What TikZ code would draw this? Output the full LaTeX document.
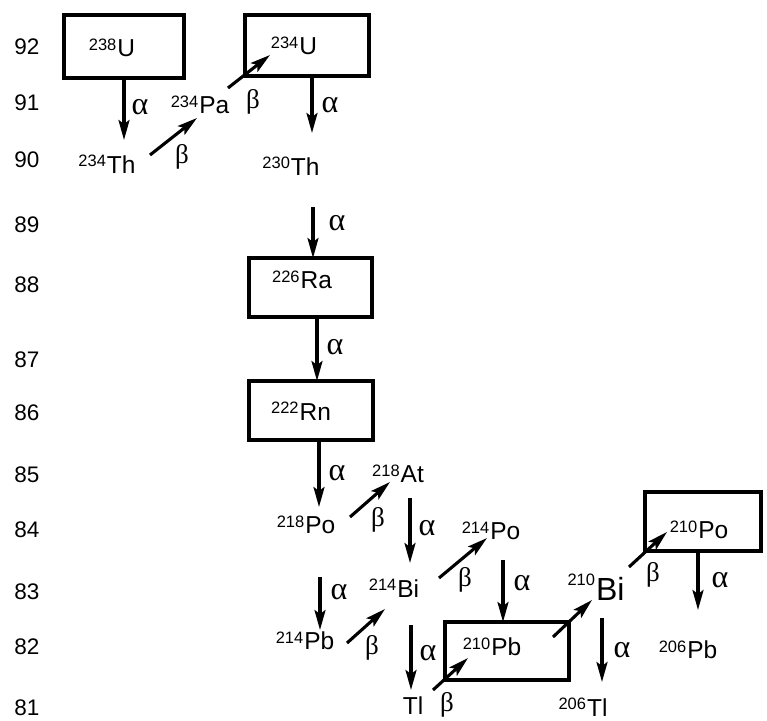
\documentclass[tikz,border=0pt]{standalone}
\usepackage{fontspec}
\setmainfont{Liberation Sans}
\newfontfamily\grk{Liberation Serif}
\usetikzlibrary{arrows.meta}
\newcommand{\nuc}[2]{\raisebox{6.5pt}{\fontsize{16.5}{16.5}\selectfont #1}\kern1pt #2}
\begin{document}
\begin{tikzpicture}[x=1pt,y=-1pt,
  nuclide/.style={inner sep=0pt, font=\fontsize{24.5}{24.5}\selectfont},
  bignuclide/.style={inner sep=0pt, font=\fontsize{32}{32}\selectfont},
  rowlab/.style={inner sep=0pt, font=\fontsize{22.5}{22.5}\selectfont},
  alab/.style={inner sep=0pt, font=\grk\fontsize{32}{32}\selectfont},
  blab/.style={inner sep=0pt, font=\grk\fontsize{27}{27}\selectfont},
  boxnode/.style 2 args={draw, line width=4.3pt, inner sep=0pt, outer sep=0pt,
    minimum width=#1, minimum height=#2},
  ar/.style={line width=3.1pt, -{Stealth[length=20pt,width=11pt,inset=4pt]}}]
\useasboundingbox (0,0) rectangle (767,720);
% row labels
\foreach \z/\yy in {92/47,91/103,90/160,89/225,88/285,87/360,86/413,85/475,84/530,83/592,82/647,81/708}
  \node[rowlab] (z\z) at (27,\yy) {\z};
% boxes
\node[boxnode={120pt}{63pt}] (b238) at (124,46.5) {};
\node[boxnode={124pt}{61pt}] (b234) at (307,45.5) {};
\node[boxnode={123pt}{59pt}] (bRa) at (310.5,287.5) {};
\node[boxnode={124pt}{59pt}] (bRn) at (311,410.5) {};
\node[boxnode={124pt}{58pt}] (bPbB) at (507,651) {};
\node[boxnode={116pt}{59pt}] (bPoB) at (703,521.5) {};
% nuclides
\node[nuclide] (U238) at (112,48) {\nuc{238}{U}};
\node[nuclide] (U234) at (294,46) {\nuc{234}{U}};
\node[nuclide] (Th234) at (107,164) {\nuc{234}{Th}};
\node[nuclide] (Pa234) at (200,105) {\nuc{234}{Pa}};
\node[nuclide] (Th230) at (291,166) {\nuc{230}{Th}};
\node[nuclide] (Ra226) at (302,280) {\nuc{226}{Ra}};
\node[nuclide] (Rn222) at (301,411) {\nuc{222}{Rn}};
\node[nuclide] (At218) at (398,474) {\nuc{218}{At}};
\node[nuclide] (Po218) at (306,525) {\nuc{218}{Po}};
\node[nuclide] (Bi214) at (394,588) {\nuc{214}{Bi}};
\node[nuclide] (Po214) at (491,531) {\nuc{214}{Po}};
\node[nuclide] (Pb214) at (305,641) {\nuc{214}{Pb}};
\node[nuclide] (Tl) at (413,706) {Tl};
\node[nuclide] (Pb210) at (492,647) {\nuc{210}{Pb}};
\node[bignuclide] (Bi210) at (596,587) {\raisebox{15pt}{\fontsize{16.5}{16.5}\selectfont 210}\kern1pt Bi};
\node[nuclide] (Po210) at (699,530) {\nuc{210}{Po}};
\node[nuclide] (Pb206) at (688,650) {\nuc{206}{Pb}};
\node[nuclide] (Tl206) at (583,707) {\nuc{206}{Tl}};
% greek labels
\node[alab] (a1) at (140,107) {α};
\node[blab] (b1) at (182,157) {β};
\node[blab] (b2) at (253,102) {β};
\node[alab] (a2) at (330,105) {α};
\node[alab] (a3) at (337,223) {α};
\node[alab] (a4) at (335,347) {α};
\node[alab] (a5) at (337,473) {α};
\node[blab] (b3) at (378,520) {β};
\node[alab] (a6) at (427,528) {α};
\node[blab] (b4) at (465,580) {β};
\node[alab] (a7) at (339,592) {α};
\node[blab] (b5) at (372,648) {β};
\node[alab] (a8) at (428,653) {α};
\node[blab] (b6) at (447,705) {β};
\node[alab] (a9) at (522,583) {α};
\node[blab] (b7) at (653,575) {β};
\node[alab] (a10) at (720,580) {α};
\node[alab] (a11) at (622,650) {α};
% arrows
\draw[ar] (b238.south) -- ([shift={(17,-24)}]Th234.center);
\draw[ar] ([shift={(43,-9)}]Th234.center) -- ([shift={(-3,13)}]Pa234.center);
\draw[ar] ([shift={(28,-17)}]Pa234.center) -- ([shift={(-24,9)}]U234.center);
\draw[ar] ([shift={(5,0)}]b234.south) -- ([shift={(21,-33)}]Th230.center);
\draw[ar] ([shift={(22,41)}]Th230.center) -- ([shift={(2.5,0)}]bRa.north);
\draw[ar] ([shift={(6.5,0)}]bRa.south) -- ([shift={(6,0)}]bRn.north);
\draw[ar] ([shift={(8,0)}]bRn.south) -- ([shift={(13,-18)}]Po218.center);
\draw[ar] ([shift={(44,-8)}]Po218.center) -- ([shift={(-8,8)}]At218.center);
\draw[ar] ([shift={(12,24)}]At218.center) -- ([shift={(16,-25)}]Bi214.center);
\draw[ar] ([shift={(45,-10)}]Bi214.center) -- ([shift={(-4,7)}]Po214.center);
\draw[ar] ([shift={(14,52)}]Po218.center) -- ([shift={(15,-11)}]Pb214.center);
\draw[ar] ([shift={(42,2)}]Pb214.center) -- ([shift={(-9,21)}]Bi214.center);
\draw[ar] ([shift={(17,37)}]Bi214.center) -- ([shift={(-2,-16)}]Tl.center);
\draw[ar] ([shift={(20,-16)}]Tl.center) -- ([shift={(-24,11)}]Pb210.center);
\draw[ar] ([shift={(12,29)}]Po214.center) -- ([shift={(-4,0)}]bPbB.north);
\draw[ar] ([shift={(61,-10)}]Pb210.center) -- ([shift={(-4,13)}]Bi210.center);
\draw[ar] ([shift={(33,-20)}]Bi210.center) -- ([shift={(-32,2)}]Po210.center);
\draw[ar] ([shift={(-5,0)}]bPoB.south) -- ([shift={(10,-40)}]Pb206.center);
\draw[ar] ([shift={(6,31)}]Bi210.center) -- ([shift={(19,-25)}]Tl206.center);
\end{tikzpicture}
\end{document}
